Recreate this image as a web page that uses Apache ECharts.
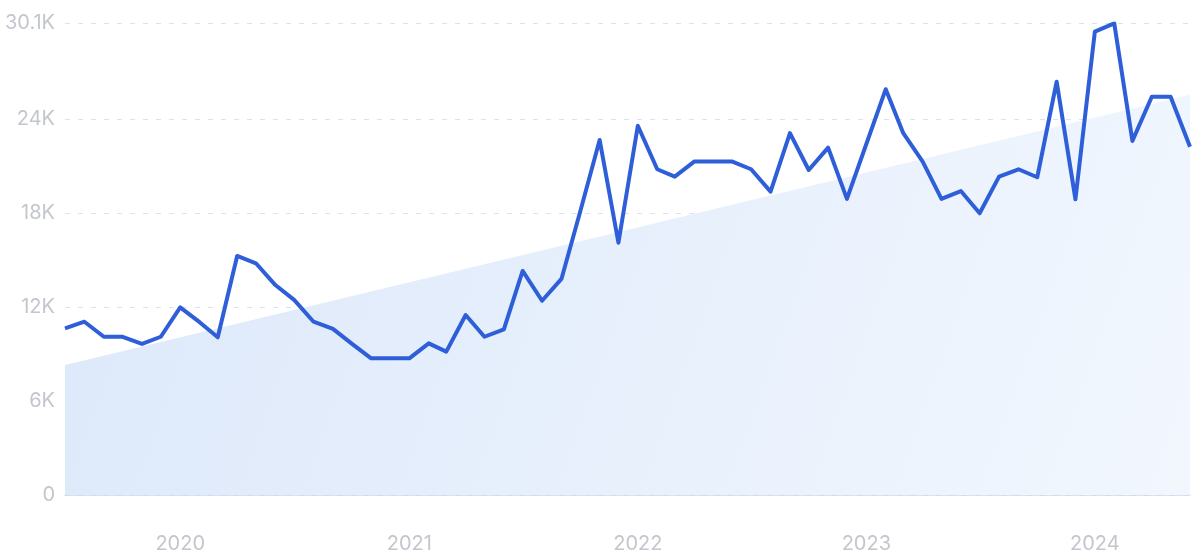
<!DOCTYPE html>
<html>
<head>
<meta charset="utf-8">
<script src="https://cdn.jsdelivr.net/npm/echarts@6/dist/echarts.min.js"></script>
<style>
html,body{margin:0;padding:0;background:#fff;}
#chart{width:1200px;height:558px;}
</style>
</head>
<body>
<div id="chart"></div>
<script>
// Monthly points, 2019-07 .. 2024-06
var months = [
 '2019-07','2019-08','2019-09','2019-10','2019-11','2019-12',
 '2020-01','2020-02','2020-03','2020-04','2020-05','2020-06','2020-07','2020-08','2020-09','2020-10','2020-11','2020-12',
 '2021-01','2021-02','2021-03','2021-04','2021-05','2021-06','2021-07','2021-08','2021-09','2021-10','2021-11','2021-12',
 '2022-01','2022-02','2022-03','2022-04','2022-05','2022-06','2022-07','2022-08','2022-09','2022-10','2022-11','2022-12',
 '2023-01','2023-02','2023-03','2023-04','2023-05','2023-06','2023-07','2023-08','2023-09','2023-10','2023-11','2023-12',
 '2024-01','2024-02','2024-03','2024-04','2024-05','2024-06'
];
var values = [
 10640,11060,10100,10100,9640,10100,
 11980,11030,10065,15255,14790,13400,12450,11060,10600,9660,8725,8725,
 8725,9680,9150,11490,10100,10575,14300,12400,13790,18100,22660,16100,
 23570,20790,20320,21280,21280,21280,20790,19360,23100,20745,22170,18900,
 22400,25900,23090,21280,18900,19400,17980,20320,20790,20280,26380,18870,
 29570,30100,22600,25420,25420,22230
];
// Trend band endpoints
var trendMonths = ['2019-07','2024-06'];
var trendValues = [8300, 25550];
var yTicks = [0, 6000, 12000, 18000, 24000, 30100];

function toTs(m){ var p = m.split('-'); return Date.UTC(+p[0], +p[1]-1, 1); }
var lineData = months.map(function(m,i){ return [toTs(m), values[i]]; });
var trendData = trendMonths.map(function(m,i){ return [toTs(m), trendValues[i]]; });

var chart = echarts.init(document.getElementById('chart'), null, {renderer:'canvas'});
var labelColor = '#c3c6cd';
chart.setOption({
  animation: false,
  grid: {left: 65, right: 10, top: 23.4, bottom: 63, containLabel: false},
  xAxis: {
    type: 'time',
    min: toTs(months[0]),
    max: toTs(months[months.length-1]),
    minInterval: 365*24*3600*1000,
    axisLine: {show: true, lineStyle: {color: '#cbd9ef', width: 1.5}},
    axisTick: {show: false},
    splitLine: {show: false},
    axisLabel: {
      color: labelColor, fontSize: 20, fontFamily: 'Inter, Roboto, sans-serif', margin: 39,
      showMinLabel: false, showMaxLabel: false,
      formatter: function(v){ var d = new Date(v); return d.getUTCMonth()===0 ? String(d.getUTCFullYear()) : ''; }
    }
  },
  yAxis: {
    type: 'value',
    min: 0,
    max: yTicks[yTicks.length-1],
    axisLine: {show: false},
    axisTick: {show: false, customValues: yTicks},
    splitLine: {show: true, lineStyle: {color: '#d9e2ef', type: [5, 8], width: 1}},
    axisLabel: {
      customValues: yTicks,
      color: labelColor, fontSize: 20, fontFamily: 'Inter, Roboto, sans-serif', margin: 10,
      formatter: function(v){ if (v===0) return '0'; return (Math.round(v/100)/10) + 'K'; }
    }
  },
  series: [
    {
      type: 'line',
      data: trendData,
      symbol: 'none',
      lineStyle: {width: 0, opacity: 0},
      areaStyle: {
        opacity: 1,
        color: new echarts.graphic.LinearGradient(0, 0, 1, 1, [
          {offset: 0, color: '#dce8fa'},
          {offset: 1, color: '#f2f7fe'}
        ])
      },
      silent: true,
      z: 1
    },
    {
      type: 'line',
      data: lineData,
      symbol: 'none',
      lineStyle: {color: '#2e5fd8', width: 4, join: 'round'},
      z: 3
    }
  ]
});
</script>
</body>
</html>
